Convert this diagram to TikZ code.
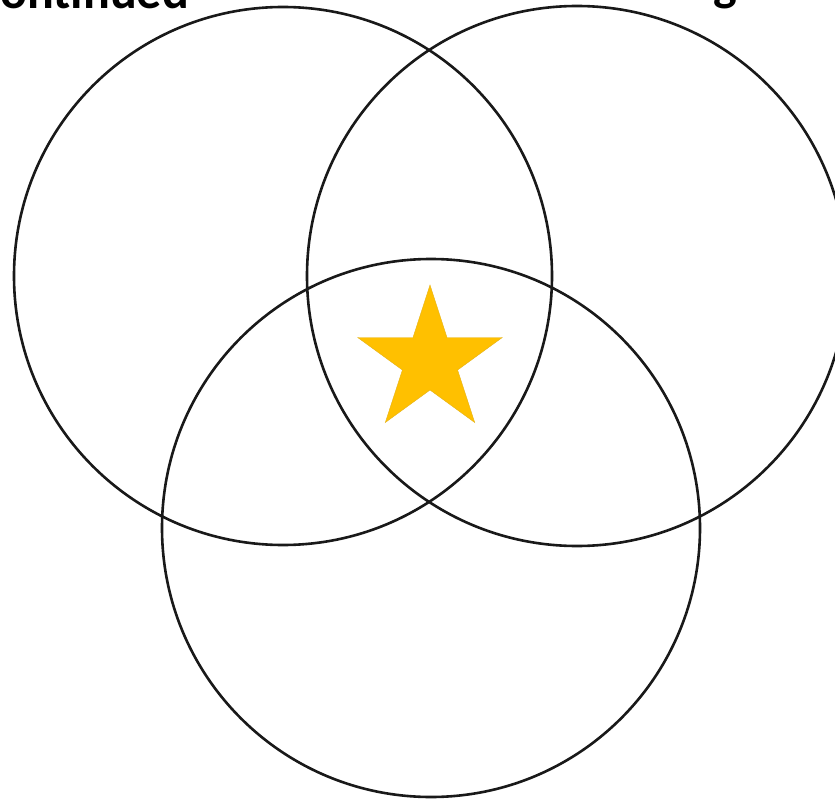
\documentclass[tikz,border=0pt]{standalone}
\usepackage{fontspec}
\setmainfont{Carlito}
\definecolor{stargold}{HTML}{FFC000}
\tikzset{
  ring/.style={draw=black!90, line width=2.6pt},
  titletext/.style={font=\bfseries\fontsize{50}{60}\selectfont, inner sep=0pt, text=black},
  starfill/.style={fill=stargold, draw=stargold!80!gray, line width=0.4pt}
}
\begin{document}
\begin{tikzpicture}[x=1pt,y=-1pt]
\useasboundingbox (0,0) rectangle (835,802);
\clip (0,0) rectangle (835,802);
\fill[white] (0,0) rectangle (835,802);
% title fragments cut off at the top
\node[titletext, anchor=base east] (tleft) at (189,9) {ontinued};
\node[titletext, anchor=south] (tright) at (725.5,9.5) {g};
% circles
\draw[ring] (283,276) circle[radius=269];
\draw[ring] (577,276) circle[radius=270];
\draw[ring] (431,528) circle[radius=269];
% star
\filldraw[starfill] (430,285) -- (447.0,337.5) -- (502.3,337.5) -- (457.6,370.0)
  -- (474.7,422.5) -- (430,390) -- (385.3,422.5) -- (402.4,370.0)
  -- (357.7,337.5) -- (413.0,337.5) -- cycle;
\end{tikzpicture}
\end{document}
